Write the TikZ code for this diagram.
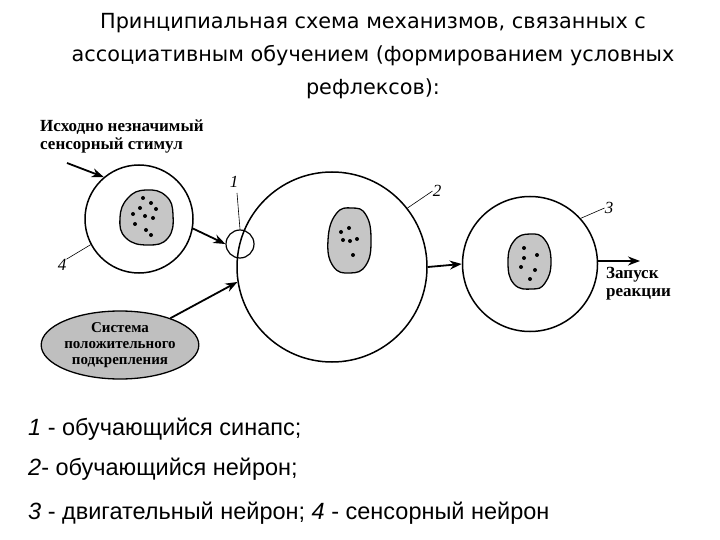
\documentclass[tikz,border=0pt]{standalone}
\usepackage{fontspec}
\setmainfont{Liberation Serif}
\newfontfamily\titlefont{DejaVu Sans}
\newfontfamily\legfont{Liberation Sans}
\usetikzlibrary{arrows.meta,shapes.geometric}
\begin{document}
\begin{tikzpicture}[x=1pt,y=-1pt,
  cell/.style={draw,line width=1.5pt,circle,inner sep=0pt},
  nuc/.style={draw,line width=1.3pt,fill=gray!45},
  arr/.style={line width=1.8pt,-{Stealth[length=12pt,width=9pt]}},
  lead/.style={line width=0.6pt},
  lab/.style={font=\bfseries\fontsize{17}{18}\selectfont,align=left,inner sep=0pt},
  num/.style={font=\itshape\fontsize{17}{17}\selectfont,inner sep=0pt},
  leg/.style={font=\legfont\fontsize{23.5}{24}\selectfont,anchor=west,inner sep=0pt},
  dot/.style={fill,circle,inner sep=0pt,minimum size=4pt}]
\path[use as bounding box] (0,0) rectangle (720,540);
\node[font=\titlefont\fontsize{20.8}{33}\selectfont,align=center] (title) at (373,56)
 {Принципиальная схема механизмов, связанных с\\ассоциативным обучением (формированием условных\\рефлексов):};
% cells
\node[cell,minimum size=108pt] (c4) at (139,219) {};
\node[cell,minimum size=190pt] (c2) at (332,267) {};
\node[cell,minimum size=135pt] (c3) at (530,264) {};
\node[cell,minimum size=28pt,line width=1.2pt] (syn) at (240,244) {};
% nuclei
\draw[nuc] plot[smooth cycle,tension=0.8] coordinates {(146,190) (166,196) (173,215) (168,238) (148,245) (126,238) (120,218) (128,198)};
\draw[nuc] plot[smooth cycle,tension=0.8] coordinates {(352,208) (366,215) (371,240) (366,265) (350,273) (333,266) (328,240) (336,214)};
\draw[nuc] plot[smooth cycle,tension=0.8] coordinates {(530,234) (545,240) (551,262) (545,283) (532,289) (514,284) (508,262) (514,241)};
\foreach \p in {(143,198),(151,203),(140,208),(156,209),(133,214),(145,216),(153,218),(135,224),(146,230),(151,235)} \node[dot] at \p {};
\foreach \p in {(349,228),(343,240),(350,241),(357,239),(341,232),(353,255)} \node[dot] at \p {};
\foreach \p in {(524,248),(537,255),(524,258),(521,267),(535,270),(530,279)} \node[dot] at \p {};
% reinforcement ellipse
\node[draw,line width=1.3pt,fill=gray!50,ellipse,minimum width=130pt,minimum height=68pt,
  align=center,font=\bfseries\fontsize{15}{16}\selectfont,inner sep=0pt] (rein) at (120,345)
  {Система\\положительного\\подкрепления};
% labels
\node[lab,anchor=north west] (stim) at (40,120) {Исходно незначимый\\сенсорный стимул};
\node[lab,anchor=north west] (resp) at (606,267) {Запуск\\реакции};
\coordinate (sA) at (67,163);
\coordinate (oE) at (640,261);
% arrows
\draw[arr] (sA) -- (c4.130);
\draw[arr] (c4.-10) -- (syn.west);
\draw[arr] (rein.28) -- (c2.189);
\draw[arr] (c2.east) -- (c3.west);
\draw[arr] (c3.east) ++(0,-3) coordinate (c3o) (c3o) -- (oE);
% numbers
\node[num] (n1) at (234,182) {1};
\node[num] (n2) at (437,191) {2};
\node[num] (n3) at (609,208) {3};
\node[num] (n4) at (62,265) {4};
\coordinate (n1b) at (237,193);
\draw[lead] (n1b) -- (syn.north);
\draw[lead] (n2.west) -- (c2.38);
\draw[lead] (n3.west) -- (c3.42);
\draw[lead] (n4.north east) -- (c4.208);
% legend
\node[leg] (l1) at (28,429) {\textit{1} - обучающийся синапс;};
\node[leg] (l2) at (28,469) {\textit{2}- обучающийся нейрон;};
\node[leg] (l3) at (28,513) {\textit{3} - двигательный нейрон; \textit{4} - сенсорный нейрон};
\end{tikzpicture}
\end{document}
